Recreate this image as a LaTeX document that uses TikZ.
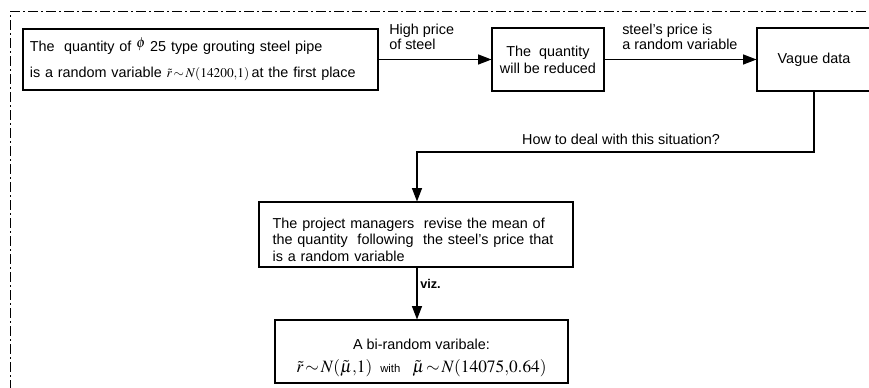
\documentclass[tikz,border=0pt]{standalone}
\usepackage{mathptmx}
\usepackage[no-math]{fontspec}
\setmainfont{Liberation Sans}
\usetikzlibrary{arrows.meta}
\tikzset{
  box/.style={draw, line width=0.8pt, inner sep=0pt, font=\fontsize{10.8}{12.75}\selectfont},
  conn/.style={line width=0.8pt, -{Triangle[length=10pt,width=7.5pt]}},
  lab/.style={font=\fontsize{10.8}{11.25}\selectfont, inner sep=0pt},
  frame/.style={line width=0.75pt, dash pattern=on 7.5pt off 2.25pt on 1.5pt off 2.25pt}
}
\begin{document}
\begin{tikzpicture}[x=0.75pt,y=-0.75pt]
\thickmuskip=2mu plus 1mu
\useasboundingbox (0,0) rectangle (869,388);
\clip (0,0) rectangle (869,388);
\draw[frame] (10,390) -- (10,12) -- (872,12);

\node[box, minimum width=266.25pt, minimum height=45.75pt, align=left, text width=256pt] (b1) at (200.5,59.5)
  {The\ \ quantity of \raisebox{3pt}{$\phi$} 25 type grouting steel pipe\\[7pt]
   is a random variable {\fontsize{10}{11}\selectfont$\tilde r\sim N(14200{,}1)$}\,at the first place};

\node[box, minimum width=84pt, minimum height=47.25pt, align=center] (b2) at (548,59.5)
  {The\ \ quantity\\will be reduced};

\node[box, minimum width=85.5pt, minimum height=47.25pt, align=center] (b3) at (814,59.5)
  {Vague data};

\node[box, minimum width=235.5pt, minimum height=48.75pt, align=left, text width=215pt, font=\fontsize{10.8}{12.5}\selectfont] (b4) at (416,234.5)
  {\rule{0pt}{15.5pt}The project managers\ \ revise the mean of\\
   the quantity\ \ following\ \ the steel's price that\\
   is a random variable};

\node[box, minimum width=219.75pt, minimum height=47.25pt, align=center] (b5) at (421.5,351.5)
  {\rule{0pt}{17pt}A bi-random varibale:\\[4.5pt]
   {\fontsize{13}{15}\selectfont$\tilde r\sim N(\tilde\mu{,}1)$}\ \ {\fontsize{8.5}{10}\selectfont with}\ \ \ {\fontsize{13}{15}\selectfont$\tilde\mu\sim N(14075{,}0.64)$}};

\draw[conn] (b1.east) -- (b2.west);
\node[lab, anchor=west, align=left] (l1) at (389,37) {High price\\of steel};

\draw[conn] (b2.east) -- (b3.west);
\node[lab, anchor=west, align=left] (l2) at (622,37) {steel's price is\\a random variable};

\coordinate (turn) at (417,152);
\draw[conn] (b3.south) |- (turn) -- (turn |- b4.north);
\node[lab] (l3) at (621,139) {How to deal with this situation?};

\draw[conn] (b4.south -| turn) -- (turn |- b5.north);
\node[lab, anchor=west, font=\fontsize{9.5}{11}\selectfont\bfseries] (l4) at (420,284) {viz.};
\end{tikzpicture}
\end{document}
